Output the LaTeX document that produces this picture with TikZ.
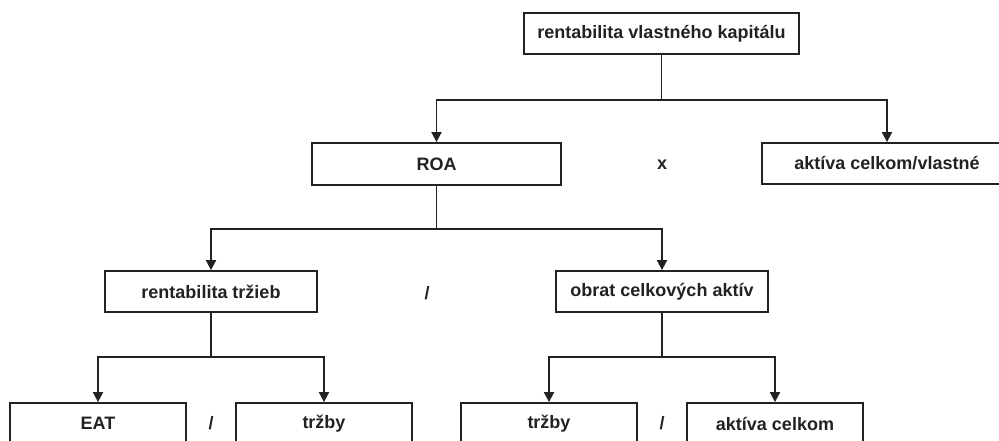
\documentclass[tikz,border=0pt]{standalone}
\usepackage{fontspec}
\setmainfont{Liberation Sans}
\usetikzlibrary{arrows.meta}
\definecolor{ink}{HTML}{222222}
\begin{document}
\begin{tikzpicture}[x=1pt,y=-1pt,
  box/.style={draw=ink, line width=1.8pt, rectangle, inner sep=0pt, minimum height=41pt, text=ink, font=\fontsize{18}{20}\selectfont\bfseries},
  conn/.style={draw=ink, line width=1.8pt},
  arr/.style={conn, -{Triangle[width=10pt,length=10pt]}},
  op/.style={text=ink, font=\fontsize{18}{20}\selectfont\bfseries}]
\useasboundingbox (0,0) rectangle (999,441);
\node[box, minimum width=275pt] (top) at (661.5,33.5) {rentabilita vlastného kapitálu};
\node[box, minimum width=249pt, minimum height=42pt] (roa) at (436.5,164) {ROA};
\node[box, minimum width=250pt] (akv) at (887,163.5) {aktíva celkom/vlastné};
\node[box, minimum width=212pt] (rt) at (211,291.5) {rentabilita tržieb};
\node[box, minimum width=212pt] (oca) at (662,291.5) {obrat celkových aktív};
\node[box, minimum width=176pt] (eat) at (98,423.5) {EAT};
\node[box, minimum width=176pt] (trz1) at (324,423.5) {tržby};
\node[box, minimum width=176pt] (trz2) at (549,423.5) {tržby};
\node[box, minimum width=176pt] (ak) at (775,423.5) {aktíva celkom};
\node[op] (o1) at (662,165) {x};
\node[op] (o2) at (427,293) {/};
\node[op] (o3) at (211,423) {/};
\node[op] (o4) at (662,423) {/};
\coordinate (j1) at (661.5,100);
\coordinate (j2) at (436.5,229);
\coordinate (j3) at (211,357);
\coordinate (j4) at (662,357);
\draw[conn] (top.south) -- (j1);
\draw[arr] (j1) -| (roa.north);
\draw[arr] (j1) -| (akv.north);
\draw[conn] (roa.south) -- (j2);
\draw[arr] (j2) -| (rt.north);
\draw[arr] (j2) -| (oca.north);
\draw[conn] (rt.south) -- (j3);
\draw[arr] (j3) -| (eat.north);
\draw[arr] (j3) -| (trz1.north);
\draw[conn] (oca.south) -- (j4);
\draw[arr] (j4) -| (trz2.north);
\draw[arr] (j4) -| (ak.north);
\end{tikzpicture}
\end{document}
